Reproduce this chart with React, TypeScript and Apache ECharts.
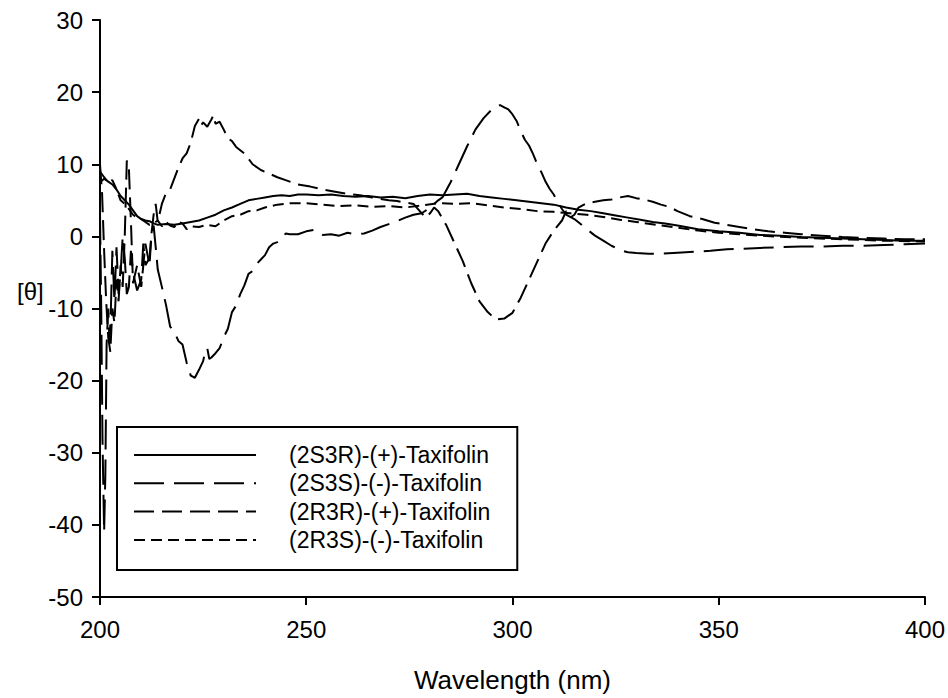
import React, { useEffect, useRef } from "react";
import * as echarts from "echarts";

const seriesNames = [
  "(2S3R)-(+)-Taxifolin",
  "(2S3S)-(-)-Taxifolin",
  "(2R3R)-(+)-Taxifolin",
  "(2R3S)-(-)-Taxifolin",
];

const xTicks = [200, 250, 300, 350, 400];
const yTicks = [-50, -40, -30, -20, -10, 0, 10, 20, 30];

const wl2S3R = [200, 201, 202, 203, 204, 205, 206, 207, 208, 209, 210, 211, 212, 213, 214, 216, 218, 220, 222, 224, 226, 228, 230, 232, 234, 236, 238, 240, 242, 244, 246, 248, 250, 253, 256, 259, 262, 265, 268, 271, 274, 277, 280, 283, 286, 289, 292, 295, 298, 301, 304, 307, 310, 313, 316, 319, 322, 325, 328, 331, 334, 337, 340, 345, 350, 355, 360, 365, 370, 375, 380, 385, 390, 395, 400];
const val2S3R = [7.5, 8.0, 7.6, 7.2, 6.5, 5.6, 5.0, 4.4, 3.6, 2.8, 2.4, 2.2, 2.1, 1.8, 1.6, 1.7, 1.6, 1.8, 2.0, 2.2, 2.6, 3.0, 3.6, 4.0, 4.5, 5.0, 5.2, 5.4, 5.6, 5.7, 5.6, 5.8, 5.8, 5.7, 5.8, 5.6, 5.5, 5.6, 5.4, 5.5, 5.3, 5.6, 5.8, 5.7, 5.8, 5.9, 5.6, 5.4, 5.2, 5.0, 4.8, 4.6, 4.4, 4.0, 3.7, 3.5, 3.2, 2.9, 2.6, 2.3, 2.0, 1.8, 1.5, 1.0, 0.7, 0.5, 0.2, 0.1, -0.1, -0.2, -0.3, -0.4, -0.5, -0.6, -0.6];

const wl2S3S = [200, 200.3, 200.6, 201, 201.3, 201.6, 202, 202.3, 202.6, 203, 203.5, 204, 204.5, 205, 205.5, 206, 206.5, 207, 207.5, 208, 209, 210, 210.5, 211, 212, 212.5, 213, 213.5, 214, 215, 216, 217, 218, 219, 220, 221, 222, 223, 224, 225, 225.5, 226, 226.5, 227, 228, 229, 230, 231, 232, 233, 234, 235, 236, 237, 238, 239, 240, 241, 242, 243, 244, 245, 246, 248, 250, 252, 254, 256, 258, 260, 262, 264, 266, 268, 270, 272, 274, 276, 278, 280, 282, 283, 285, 287, 289, 291, 293, 295, 296, 297, 298, 299, 300, 301, 302, 303, 304, 305, 306, 307, 308, 309, 310, 311, 312, 313, 314, 315, 317, 318, 320, 322, 324, 326, 328, 330, 333, 336, 339, 342, 345, 348, 352, 356, 360, 365, 370, 375, 380, 385, 390, 395, 400];
const val2S3S = [3, -10, -28, -41, -33, -15, -10, -14.5, -11, -2, -9, -1.5, -8, -5, 0, -3, -8, -7, -2, -5, -7.5, -6, -1, -4, -3, 0.5, 1.5, -1.5, -4.6, -7, -9.5, -12.5, -13.2, -14.5, -15, -17.5, -19.3, -19.6, -18.5, -17.3, -16, -15.5, -17, -16.8, -16.2, -15.5, -14, -12.8, -10.5, -9.6, -8, -6.8, -5.2, -4.8, -3.8, -3.2, -2.6, -1.5, -1, -0.8, -0.4, 0.4, 0.3, 0.3, 0.7, 0.9, 0.2, 0.3, 0.1, 0.5, 0.3, 0.4, 0.8, 1.3, 1.7, 2.1, 2.6, 3.0, 3.2, 4.0, 5.0, 5.4, 7.5, 10.0, 12.5, 14.8, 16.4, 17.6, 18.0, 18.2, 17.9, 17.6, 16.9, 16.0, 14.6, 13.4, 12.6, 11.4, 10.0, 8.9, 7.6, 6.6, 5.8, 4.7, 3.8, 3.0, 2.7, 2.4, 1.5, 1.0, 0.1, -0.6, -1.3, -1.9, -2.2, -2.3, -2.4, -2.4, -2.3, -2.2, -2.1, -2.0, -1.8, -1.7, -1.6, -1.5, -1.4, -1.4, -1.3, -1.3, -1.2, -1.1, -1.0];

const wl2R3R = [200, 200.5, 201, 201.5, 202, 202.5, 203, 203.5, 204, 204.5, 205, 205.5, 206, 206.5, 207, 207.5, 208, 209, 210, 211, 212, 212.5, 213, 213.5, 214, 215, 216, 217, 218, 219, 220, 221, 222, 223, 224, 224.5, 225, 226, 227, 227.5, 228, 229, 230, 231, 232, 233, 235, 237, 239, 241, 243, 245, 248, 251, 254, 257, 260, 263, 266, 268, 270, 272, 274, 276, 278, 279, 280, 281, 282, 284, 286, 288, 290, 292, 294, 296, 298, 300, 302, 304, 306, 308, 310, 312, 313, 314, 315, 316, 318, 320, 322, 324, 326, 328, 330, 332, 334, 336, 338, 340, 343, 346, 349, 352, 355, 358, 362, 366, 370, 375, 380, 385, 390, 395, 400];
const val2R3R = [10.0, 6, -2, -9, -14, -16, -10, -12, -6, -9, -4, -7, 0, 10.5, 9.5, 2, -6.5, -4, -7, -1, -4, 0.5, 3, 4.5, 2, 4.5, 6, 6.5, 8, 9.5, 10.8, 11.5, 13, 15.3, 16.3, 15.4, 15.8, 15.2, 16.2, 16.8, 15.6, 15.9, 14.8, 13.6, 13.2, 12.4, 11.5, 10.0, 9.2, 8.7, 8.2, 7.8, 7.2, 6.9, 6.5, 6.2, 5.9, 5.7, 5.4, 5.2, 5.0, 4.9, 4.7, 4.5, 3.2, 2.6, 3.2, 4.0, 3.5, 1.5, -1.0, -3.5, -6.5, -9.0, -10.5, -11.5, -11.4, -10.6, -8.5, -6.0, -3.5, -1.0, 0.8, 2.2, 3.5, 2.6, 3.0, 4.0, 4.6, 4.8, 5.0, 5.1, 5.4, 5.6, 5.3, 5.1, 4.8, 4.4, 4.1, 3.5, 2.8, 2.4, 1.9, 1.6, 1.3, 1.0, 0.7, 0.5, 0.3, 0.1, -0.1, -0.2, -0.3, -0.4, -0.4];

const wl2R3S = [200, 201, 202, 203, 204, 205, 206, 207, 208, 209, 210, 211, 212, 213, 214, 215, 216, 217, 218, 219, 220, 221, 222, 224, 226, 228, 230, 232, 234, 236, 238, 240, 243, 246, 250, 254, 258, 262, 266, 270, 274, 278, 282, 286, 290, 294, 298, 302, 306, 310, 314, 318, 322, 326, 330, 335, 340, 345, 350, 355, 360, 370, 380, 390, 400];
const val2R3S = [9.0, 8.2, 7.5, 7.8, 6.5, 5.0, 4.5, 3.8, 3.0, 2.6, 2.4, 2.0, 1.6, 1.8, 2.2, 1.4, 2.0, 1.5, 1.3, 2.0, 1.8, 1.0, 1.4, 1.3, 1.6, 1.4, 2.2, 2.8, 3.0, 3.5, 3.6, 4.0, 4.4, 4.6, 4.6, 4.4, 4.2, 4.3, 4.1, 4.2, 4.0, 4.3, 4.6, 4.5, 4.6, 4.3, 4.0, 3.8, 3.5, 3.4, 3.2, 3.0, 2.7, 2.3, 2.0, 1.6, 1.2, 0.8, 0.5, 0.3, 0.1, -0.2, -0.4, -0.6, -0.7];

const wlArrays = [wl2S3R, wl2S3S, wl2R3R, wl2R3S];
const valArrays = [val2S3R, val2S3S, val2R3R, val2R3S];
const dashes: (string | number[])[] = ["solid", [30, 10], [20, 8], [11, 6]];

const FONT = "'Liberation Sans', Arial, sans-serif";

export default function App() {
  const ref = useRef<HTMLDivElement>(null);
  useEffect(() => {
    if (!ref.current) return;
    const chart = echarts.init(ref.current, undefined, { renderer: "svg" });
    const series = seriesNames.map((name, i) => ({
      name,
      type: "line",
      data: wlArrays[i].map((w, j) => [w, valArrays[i][j]]),
      symbol: "none",
      lineStyle: { color: "#000", width: 2, type: dashes[i] },
      itemStyle: { color: "#000" },
      z: 2,
    }));
    chart.setOption({
      animation: false,
      backgroundColor: "#fff",
      textStyle: { fontFamily: FONT },
      grid: { left: 100, right: 20, top: 20, bottom: 98, containLabel: false },
      xAxis: {
        type: "value",
        min: xTicks[0],
        max: xTicks[xTicks.length - 1],
        interval: 50,
        name: "Wavelength (nm)",
        nameLocation: "middle",
        nameGap: 70,
        nameTextStyle: { fontSize: 26, color: "#000", fontFamily: FONT },
        axisLine: { onZero: false, lineStyle: { color: "#000", width: 2 } },
        axisTick: { show: true, inside: false, length: 8, lineStyle: { color: "#000", width: 2 } },
        axisLabel: { fontSize: 24, color: "#000", margin: 20, fontFamily: FONT },
        splitLine: { show: false },
      },
      yAxis: {
        type: "value",
        min: yTicks[0],
        max: yTicks[yTicks.length - 1],
        interval: 10,
        axisLine: { show: true, onZero: false, lineStyle: { color: "#000", width: 2 } },
        axisTick: { show: true, inside: false, length: 8, lineStyle: { color: "#000", width: 2 } },
        axisLabel: { fontSize: 24, color: "#000", margin: 17, fontFamily: FONT },
        splitLine: { show: false },
      },
      legend: {
        orient: "vertical",
        left: 117,
        top: 427,
        itemWidth: 122,
        itemHeight: 14,
        itemGap: 4.3,
        padding: [16, 27, 18, 16],
        borderColor: "#000",
        borderWidth: 2,
        backgroundColor: "#fff",
        itemStyle: { opacity: 0 },
        textStyle: { fontSize: 23, color: "#000", fontFamily: FONT, lineHeight: 24, padding: [0, 0, 0, 28] },
        data: seriesNames,
      },
      graphic: [
        {
          type: "text",
          left: 17,
          top: 279,
          style: { text: "[θ]", fontSize: 24, fill: "#000", fontFamily: FONT },
        },
      ],
      series,
    });
    return () => chart.dispose();
  }, []);
  return (
    <div
      ref={ref}
      style={{ position: "fixed", left: 0, top: 0, width: 948, height: 698 }}
    />
  );
}
